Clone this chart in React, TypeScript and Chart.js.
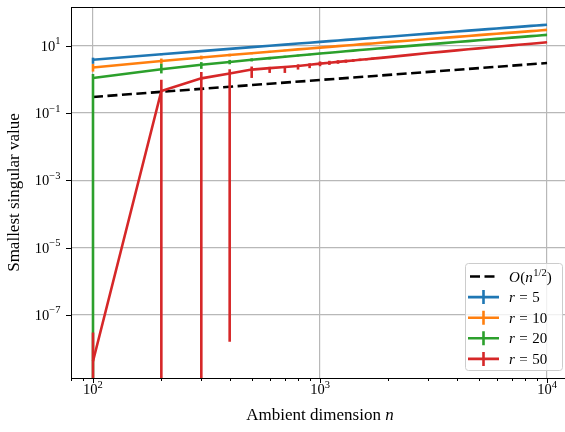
import React, { useEffect, useRef } from 'react';
import { Chart, registerables } from 'chart.js';

Chart.register(...registerables);

const FONT = '"Liberation Serif", "Times New Roman", serif';

// ---------------- data ----------------
const nValues = [100, 200, 300, 400, 500, 600, 700, 800, 900, 1000, 1100, 1200, 1300, 1400, 1500, 1600, 1700, 1800, 1900, 2000, 2500, 3000, 3500, 4000, 4500, 5000, 5500, 6000, 6500, 7000, 7500, 8000, 8500, 9000, 9500, 10000];

const r5Mean = [3.80, 5.56, 6.90, 8.04, 9.04, 9.94, 10.78, 11.55, 12.28, 12.97, 13.62, 14.25, 14.85, 15.43, 15.98, 16.52, 17.04, 17.55, 18.04, 18.52, 20.76, 22.78, 24.64, 26.38, 28.00, 29.54, 31.00, 32.40, 33.74, 35.04, 36.28, 37.48, 38.65, 39.78, 40.89, 41.96];
const r5Low = [2.90, 5.20, 6.60, 7.78, 8.82, 9.74, 10.60, 11.38, 12.12, 12.82, 13.48, 14.12, 14.73, 15.31, 15.87, 16.41, 16.94, 17.45, 17.95, 18.43, 20.68, 22.71, 24.57, 26.32, 27.94, 29.49, 30.95, 32.35, 33.69, 35.00, 36.24, 37.44, 38.61, 39.74, 40.85, 41.92];
const r5High = [4.40, 5.95, 7.22, 8.30, 9.27, 10.14, 10.96, 11.72, 12.44, 13.12, 13.76, 14.38, 14.97, 15.55, 16.09, 16.63, 17.14, 17.65, 18.13, 18.61, 20.84, 22.85, 24.71, 26.44, 28.06, 29.59, 31.05, 32.45, 33.79, 35.08, 36.32, 37.52, 38.69, 39.82, 40.93, 42.00];

const r10Mean = [2.25, 3.50, 4.46, 5.27, 5.98, 6.62, 7.22, 7.77, 8.28, 8.77, 9.24, 9.68, 10.11, 10.52, 10.92, 11.30, 11.67, 12.03, 12.38, 12.72, 14.32, 15.76, 17.08, 18.32, 19.47, 20.57, 21.61, 22.60, 23.56, 24.48, 25.36, 26.22, 27.05, 27.86, 28.64, 29.40];
const r10Low = [1.70, 2.90, 3.90, 4.80, 5.55, 6.22, 6.85, 7.43, 7.96, 8.47, 8.96, 9.42, 9.87, 10.30, 10.71, 11.10, 11.48, 11.85, 12.21, 12.56, 14.18, 15.64, 16.97, 18.22, 19.38, 20.49, 21.54, 22.53, 23.50, 24.42, 25.30, 26.17, 27.00, 27.81, 28.59, 29.35];
const r10High = [2.85, 4.15, 5.05, 5.75, 6.42, 7.02, 7.60, 8.11, 8.60, 9.07, 9.52, 9.94, 10.35, 10.74, 11.13, 11.50, 11.86, 12.21, 12.55, 12.88, 14.46, 15.88, 17.19, 18.42, 19.56, 20.65, 21.68, 22.67, 23.62, 24.54, 25.42, 26.27, 27.10, 27.91, 28.69, 29.45];

const r20Mean = [1.09, 2.00, 2.70, 3.29, 3.81, 4.28, 4.71, 5.11, 5.49, 5.85, 6.19, 6.51, 6.82, 7.12, 7.41, 7.69, 7.96, 8.22, 8.48, 8.73, 9.89, 10.94, 11.91, 12.80, 13.65, 14.45, 15.21, 15.93, 16.63, 17.30, 17.94, 18.57, 19.17, 19.76, 20.33, 20.89];
const r20Low = [0, 1.50, 2.05, 2.80, 3.40, 3.92, 4.38, 4.80, 5.20, 5.58, 5.94, 6.28, 6.60, 6.92, 7.22, 7.51, 7.79, 8.06, 8.33, 8.59, 9.77, 10.83, 11.81, 12.71, 13.57, 14.38, 15.14, 15.87, 16.57, 17.24, 17.89, 18.52, 19.12, 19.71, 20.28, 20.84];
const r20High = [1.43, 2.90, 3.25, 3.78, 4.22, 4.64, 5.04, 5.42, 5.78, 6.12, 6.44, 6.74, 7.04, 7.32, 7.60, 7.87, 8.13, 8.38, 8.63, 8.87, 10.01, 11.05, 12.01, 12.89, 13.73, 14.52, 15.28, 15.99, 16.69, 17.36, 17.99, 18.62, 19.22, 19.81, 20.38, 20.94];

const r50Mean = [4.2e-9, 0.45, 1.07, 1.50, 1.95, 2.15, 2.33, 2.50, 2.72, 2.93, 3.12, 3.30, 3.47, 3.64, 3.80, 3.96, 4.12, 4.27, 4.42, 4.57, 5.34, 6.03, 6.67, 7.26, 7.82, 8.34, 8.85, 9.33, 9.78, 10.23, 10.65, 11.07, 11.47, 11.85, 12.23, 12.60];
const r50Low = [0, 0, 0, 1.6e-8, 1.10, 1.55, 1.55, 1.95, 2.15, 2.45, 2.68, 2.90, 3.10, 3.30, 3.48, 3.66, 3.84, 4.01, 4.18, 4.35, 5.18, 5.89, 6.55, 7.15, 7.72, 8.25, 8.77, 9.26, 9.71, 10.17, 10.59, 11.01, 11.42, 11.80, 12.18, 12.55];
const r50High = [3.0e-8, 0.97, 1.65, 2.00, 2.40, 2.35, 2.50, 2.80, 3.00, 3.40, 3.56, 3.70, 3.84, 3.98, 4.12, 4.26, 4.40, 4.53, 4.66, 4.79, 5.50, 6.17, 6.79, 7.37, 7.92, 8.43, 8.93, 9.40, 9.85, 10.29, 10.71, 11.13, 11.52, 11.90, 12.28, 12.65];

const refN = [100, 10000];
const refValues = [0.30, 3.05];

const xMajorTicks = [100, 1000, 10000];
const xMinorTicks = [80, 90, 200, 300, 400, 500, 600, 700, 800, 900, 2000, 3000, 4000, 5000, 6000, 7000, 8000, 9000];
const yTicks = [1e1, 1e-1, 1e-3, 1e-5, 1e-7];

const seriesLabels = ['5', '10', '20', '50'];
const seriesColors = ['#1f77b4', '#ff7f0e', '#2ca02c', '#d62728'];

const X_MIN = 80;
const X_MAX = 12000;
const Y_MIN = 1.34e-9;
const Y_MAX = 141;

// ---------------- drawing helpers ----------------
type Run = { text: string; italic?: boolean; size: number; dy?: number; gap?: number };

function runsWidth(ctx: CanvasRenderingContext2D, runs: Run[]) {
  let w = 0;
  for (const r of runs) {
    ctx.font = `${r.italic ? 'italic ' : ''}${r.size}px ${FONT}`;
    w += ctx.measureText(r.text).width + (r.gap || 0);
  }
  return w;
}

function drawRuns(ctx: CanvasRenderingContext2D, runs: Run[], x: number, y: number) {
  let cx = x;
  for (const r of runs) {
    ctx.font = `${r.italic ? 'italic ' : ''}${r.size}px ${FONT}`;
    ctx.fillText(r.text, cx, y - (r.dy || 0));
    cx += ctx.measureText(r.text).width + (r.gap || 0);
  }
  return cx;
}

function powerRuns(v: number): Run[] {
  const e = Math.round(Math.log10(v));
  const s = e < 0 ? '\u2212' + String(-e) : String(e);
  return [
    { text: '10', size: 14.5 },
    { text: s, size: 10.5, dy: 6.5 },
  ];
}

const LW = 2.6;

const decorPlugin = {
  id: 'decor',
  afterDatasetDraw(chart: any, args: any) {
    const ds = chart.data.datasets[args.index];
    if (!ds.errLow) return;
    const { ctx, chartArea, scales } = chart;
    ctx.save();
    ctx.beginPath();
    ctx.rect(chartArea.left, chartArea.top, chartArea.right - chartArea.left, chartArea.bottom - chartArea.top);
    ctx.clip();
    ctx.strokeStyle = ds.borderColor;
    ctx.lineWidth = LW;
    ctx.lineCap = 'butt';
    ds.data.forEach((p: any, i: number) => {
      const x = scales.x.getPixelForValue(p.x);
      const lo = ds.errLow[i];
      const hi = ds.errHigh[i];
      const yLo = lo > 0 ? scales.y.getPixelForValue(lo) : chartArea.bottom + 10;
      const yHi = scales.y.getPixelForValue(hi);
      ctx.beginPath();
      ctx.moveTo(x, yLo);
      ctx.lineTo(x, yHi);
      ctx.stroke();
    });
    ctx.restore();
  },
  afterDraw(chart: any) {
    const { ctx, chartArea, scales } = chart;
    const { left, right, top, bottom } = chartArea;
    ctx.save();
    // top spine
    ctx.strokeStyle = '#000';
    ctx.lineWidth = 1;
    ctx.beginPath();
    ctx.moveTo(left, Math.round(top) + 0.5);
    ctx.lineTo(right, Math.round(top) + 0.5);
    ctx.stroke();

    // x ticks
    ctx.lineWidth = 1;
    const xs = scales.x;
    const ys = scales.y;
    for (const v of xMajorTicks) {
      const px = Math.round(xs.getPixelForValue(v)) + 0.5;
      ctx.beginPath();
      ctx.moveTo(px, bottom);
      ctx.lineTo(px, bottom + 5);
      ctx.stroke();
    }
    for (const v of xMinorTicks) {
      const px = Math.round(xs.getPixelForValue(v)) + 0.5;
      ctx.beginPath();
      ctx.moveTo(px, bottom);
      ctx.lineTo(px, bottom + 3);
      ctx.stroke();
    }
    for (const v of yTicks) {
      const py = Math.round(ys.getPixelForValue(v)) + 0.5;
      ctx.beginPath();
      ctx.moveTo(left, py);
      ctx.lineTo(left - 5, py);
      ctx.stroke();
    }

    // tick labels
    ctx.fillStyle = '#000';
    ctx.textBaseline = 'alphabetic';
    ctx.textAlign = 'left';
    for (const v of xMajorTicks) {
      const px = xs.getPixelForValue(v);
      const runs = powerRuns(v);
      const w = runsWidth(ctx, runs);
      drawRuns(ctx, runs, px - w / 2, bottom + 16);
    }
    for (const v of yTicks) {
      const py = ys.getPixelForValue(v);
      const runs = powerRuns(v);
      const w = runsWidth(ctx, runs);
      drawRuns(ctx, runs, left - 10.5 - w, py + 5);
    }

    // axis titles
    const xTitle: Run[] = [
      { text: 'Ambient dimension ', size: 17 },
      { text: 'n', italic: true, size: 17 },
    ];
    const xtw = runsWidth(ctx, xTitle);
    drawRuns(ctx, xTitle, 320 - xtw / 2, 420);

    ctx.save();
    ctx.translate(19, (top + bottom) / 2);
    ctx.rotate(-Math.PI / 2);
    const yTitle: Run[] = [{ text: 'Smallest singular value', size: 17 }];
    const ytw = runsWidth(ctx, yTitle);
    drawRuns(ctx, yTitle, -ytw / 2, 0);
    ctx.restore();

    // legend
    const bx = 465, by = 263, bw = 97, bh = 107;
    ctx.beginPath();
    (ctx as any).roundRect(bx + 0.5, by + 0.5, bw, bh, 3);
    ctx.fillStyle = 'rgba(255,255,255,0.8)';
    ctx.fill();
    ctx.strokeStyle = '#cccccc';
    ctx.lineWidth = 1;
    ctx.stroke();

    const hx0 = 468, hx1 = 499, tx = 509;
    const rowY = (i: number) => 276.5 + i * 20.6;
    // dashed entry
    ctx.strokeStyle = '#000';
    ctx.lineWidth = LW;
    ctx.setLineDash([10, 4.5]);
    ctx.beginPath();
    ctx.moveTo(hx0 + 2, rowY(0));
    ctx.lineTo(hx1, rowY(0));
    ctx.stroke();
    ctx.setLineDash([]);
    ctx.fillStyle = '#000';
    drawRuns(ctx, [
      { text: 'O', italic: true, size: 15, gap: 0.5 },
      { text: '(', size: 15 },
      { text: 'n', italic: true, size: 15, gap: 0.5 },
      { text: '1/2', size: 10.5, dy: 6 },
      { text: ')', size: 15 },
    ], tx, rowY(0) + 5);

    seriesLabels.forEach((lab, i) => {
      const y = rowY(i + 1);
      ctx.strokeStyle = seriesColors[i];
      ctx.lineWidth = LW;
      ctx.beginPath();
      ctx.moveTo(hx0, y);
      ctx.lineTo(hx1, y);
      ctx.moveTo((hx0 + hx1) / 2, y - 7);
      ctx.lineTo((hx0 + hx1) / 2, y + 7);
      ctx.stroke();
      ctx.fillStyle = '#000';
      drawRuns(ctx, [
        { text: 'r', italic: true, size: 15, gap: 4.5 },
        { text: '=', size: 15, gap: 4.5 },
        { text: lab, size: 15 },
      ], tx, y + 5);
    });

    ctx.restore();
  },
};

function makeSeries(mean: number[], low: number[], high: number[], i: number) {
  return {
    label: 'r = ' + seriesLabels[i],
    data: nValues.map((n, k) => ({ x: n, y: mean[k] })),
    errLow: low,
    errHigh: high,
    borderColor: seriesColors[i],
    backgroundColor: seriesColors[i],
    borderWidth: LW,
    pointRadius: 0,
    showLine: true,
    tension: 0,
    order: 4 - i,
  } as any;
}

export default function App() {
  const canvasRef = useRef<HTMLCanvasElement | null>(null);

  useEffect(() => {
    if (!canvasRef.current) return;
    const datasets: any[] = [
      {
        label: 'O(n^{1/2})',
        data: refN.map((n, k) => ({ x: n, y: refValues[k] })),
        borderColor: '#000',
        backgroundColor: '#000',
        borderWidth: LW,
        borderDash: [10, 4.5],
        pointRadius: 0,
        showLine: true,
        order: 5,
      },
      makeSeries(r5Mean, r5Low, r5High, 0),
      makeSeries(r10Mean, r10Low, r10High, 1),
      makeSeries(r20Mean, r20Low, r20High, 2),
      makeSeries(r50Mean, r50Low, r50High, 3),
    ];

    const chart = new Chart(canvasRef.current, {
      type: 'scatter',
      data: { datasets },
      plugins: [decorPlugin],
      options: {
        animation: false,
        responsive: false,
        devicePixelRatio: 1,
        layout: { padding: { top: 7, left: 0, right: 0, bottom: 0 } },
        plugins: {
          legend: { display: false },
          tooltip: { enabled: false },
        },
        scales: {
          x: {
            type: 'logarithmic',
            min: X_MIN,
            max: X_MAX,
            afterBuildTicks: (axis: any) => {
              axis.ticks = [...xMinorTicks, ...xMajorTicks].sort((a, b) => a - b).map((v) => ({ value: v }));
            },
            afterFit: (axis: any) => {
              axis.height = 54;
            },
            ticks: { display: false, autoSkip: false },
            grid: {
              drawTicks: false,
              lineWidth: 1.2,
              color: (c: any) => (c.tick && xMajorTicks.includes(c.tick.value) ? '#b8b8b8' : 'rgba(0,0,0,0)'),
            },
            border: { display: true, color: '#000', width: 1 },
          },
          y: {
            type: 'logarithmic',
            min: Y_MIN,
            max: Y_MAX,
            afterBuildTicks: (axis: any) => {
              axis.ticks = [...yTicks].sort((a, b) => a - b).map((v) => ({ value: v }));
            },
            afterFit: (axis: any) => {
              axis.width = 71;
            },
            ticks: { display: false, autoSkip: false },
            grid: {
              drawTicks: false,
              lineWidth: 1.2,
              color: '#b8b8b8',
            },
            border: { display: true, color: '#000', width: 1 },
          },
        },
      } as any,
    });
    return () => chart.destroy();
  }, []);

  return (
    <div style={{ position: 'fixed', left: 0, top: 0, width: 565, height: 432, background: '#fff' }}>
      <canvas ref={canvasRef} width={565} height={432} style={{ display: 'block' }} />
    </div>
  );
}
